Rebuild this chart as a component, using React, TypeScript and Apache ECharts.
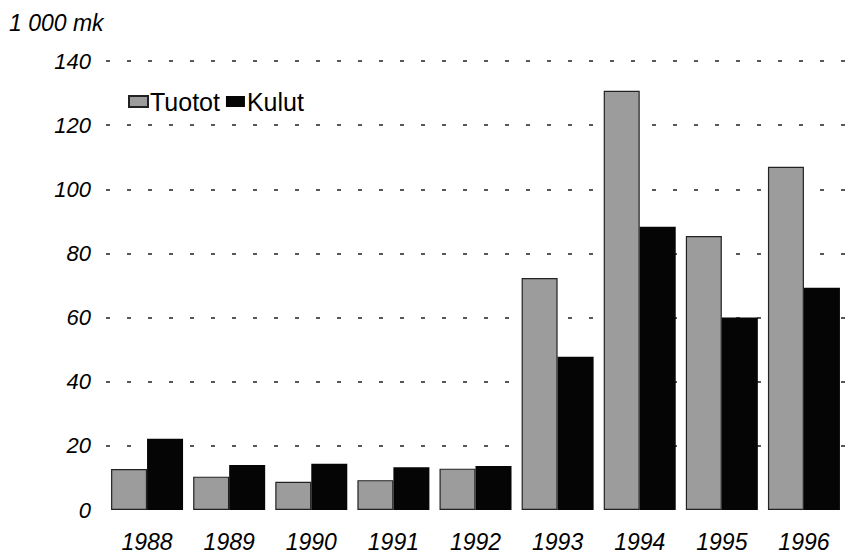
import React, { useEffect, useRef } from "react";
import * as echarts from "echarts";

const years = ["1988", "1989", "1990", "1991", "1992", "1993", "1994", "1995", "1996"];
const tuotot = [12.8, 10.4, 8.8, 9.3, 12.9, 72.3, 130.7, 85.4, 107];
const kulut = [22.2, 14.0, 14.4, 13.3, 13.7, 47.8, 88.3, 60.0, 69.3];
const unitLabel = "1 000 mk";

const FONT = "'Liberation Sans', Arial, Helvetica, sans-serif";

export default function App() {
  const ref = useRef<HTMLDivElement>(null);
  useEffect(() => {
    document.body.style.margin = "0";
    const chart = echarts.init(ref.current!, null, { renderer: "svg" });
    chart.setOption({
      animation: false,
      backgroundColor: "#ffffff",
      title: {
        text: unitLabel,
        left: 9,
        top: 11,
        padding: 0,
        textStyle: { fontFamily: FONT, fontStyle: "italic", fontWeight: "normal", fontSize: 23, color: "#000" },
      },
      legend: {
        left: 123,
        top: 84,
        icon: "rect",
        itemWidth: 19,
        itemHeight: 11,
        itemGap: 6,
        textStyle: { fontFamily: FONT, fontSize: 25, color: "#000", padding: [0, 0, 0, -3] },
        data: ["Tuotot", "Kulut"],
      },
      grid: { left: 106, right: -8, top: 61, bottom: 43, containLabel: false },
      xAxis: {
        type: "category",
        data: years,
        axisLine: { show: false },
        axisTick: { show: false },
        axisLabel: {
          margin: 20,
          fontFamily: FONT,
          fontStyle: "italic",
          fontSize: 23,
          color: "#000",
        },
      },
      yAxis: {
        type: "value",
        min: 0,
        max: 140,
        interval: 20,
        axisLine: { show: false },
        axisTick: { show: false },
        axisLabel: {
          margin: 15,
          fontFamily: FONT,
          fontStyle: "italic",
          fontSize: 22,
          color: "#000",
        },
        splitLine: {
          show: true,
          showMinLine: false,
          lineStyle: { color: "#222", width: 1.5, type: [4, 17] },
        },
      },
      series: [
        {
          name: "Tuotot",
          type: "bar",
          data: tuotot,
          barWidth: 36,
          barGap: "0%",
          itemStyle: { color: "#9c9c9c", borderColor: "#222", borderWidth: 1.2 },
        },
        {
          name: "Kulut",
          type: "bar",
          data: kulut,
          barWidth: 36,
          itemStyle: { color: "#050505" },
        },
      ],
    });
    return () => chart.dispose();
  }, []);
  return <div ref={ref} style={{ width: 845, height: 553 }} />;
}
